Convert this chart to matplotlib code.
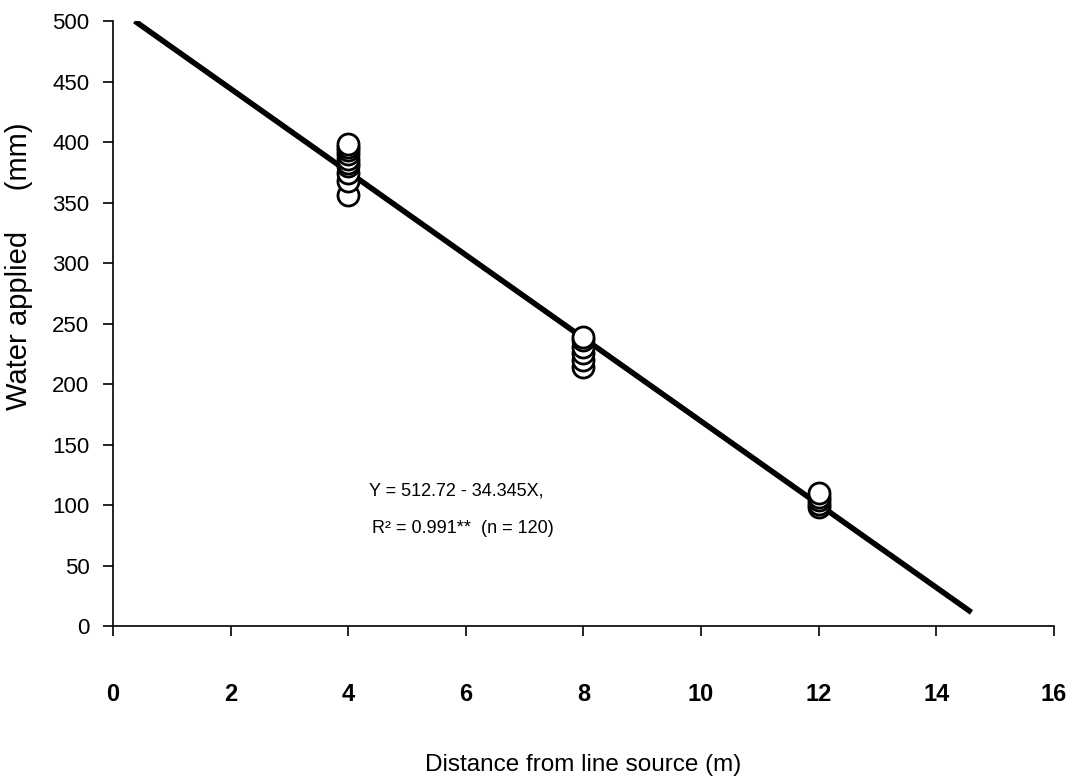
import numpy as np
import matplotlib.pyplot as plt

plt.rcParams['font.family'] = ['Liberation Sans', 'DejaVu Sans']

# measured water at each distance (many points overlap)
dist_4 = [4] * 10
water_4 = [356, 368, 374, 380, 383, 386, 390, 393, 396, 398]
dist_8 = [8] * 6
water_8 = [214, 220, 226, 231, 236, 239]
dist_12 = [12] * 5
water_12 = [98, 101, 104, 107, 110]

# fitted regression  Y = a + bX
a = 512.72
b = -34.345
x_fit = [0.37, 14.6]
x_ticks = [0, 2, 4, 6, 8, 10, 12, 14, 16]
y_ticks = [0, 50, 100, 150, 200, 250, 300, 350, 400, 450, 500]

fig = plt.figure(figsize=(10.74, 7.84), dpi=100)
ax = fig.add_axes([0.1052, 0.2015, 0.876, 0.7717])

xs = np.array(x_fit)
ax.plot(xs, a + b * xs, color='black', lw=4, solid_capstyle='butt', zorder=2)

xd = dist_4 + dist_8 + dist_12
yd = water_4 + water_8 + water_12
ax.scatter(xd, yd, s=230, facecolors='white', edgecolors='black',
           linewidths=2, zorder=3, clip_on=False)

ax.text(4.35, 112, "Y = 512.72 - 34.345X,", fontsize=13, va='center', ha='left')
ax.text(4.4, 81, "R\u00b2 = 0.991**  (n = 120)", fontsize=13, va='center', ha='left')

ax.set_xlim(0, 16)
ax.set_ylim(0, 500)
ax.set_xticks(x_ticks)
ax.set_yticks(y_ticks)
ax.spines['top'].set_visible(False)
ax.spines['right'].set_visible(False)
ax.spines['left'].set_linewidth(1.2)
ax.spines['bottom'].set_linewidth(1.2)
ax.tick_params(axis='x', direction='out', length=7, width=1.2, pad=34, labelsize=17)
ax.tick_params(axis='y', direction='out', length=7, width=1.2, pad=10, labelsize=16)
for lab in ax.get_xticklabels():
    lab.set_fontweight('bold')

ax.set_xlabel("Distance from line source (m)", fontsize=17.5)
ax.xaxis.set_label_coords(0.5, -0.212)
ax.set_ylabel("Water applied     (mm)", fontsize=21)
ax.yaxis.set_label_coords(-0.085, 0.595)

fig.savefig("out.png", dpi=100)
